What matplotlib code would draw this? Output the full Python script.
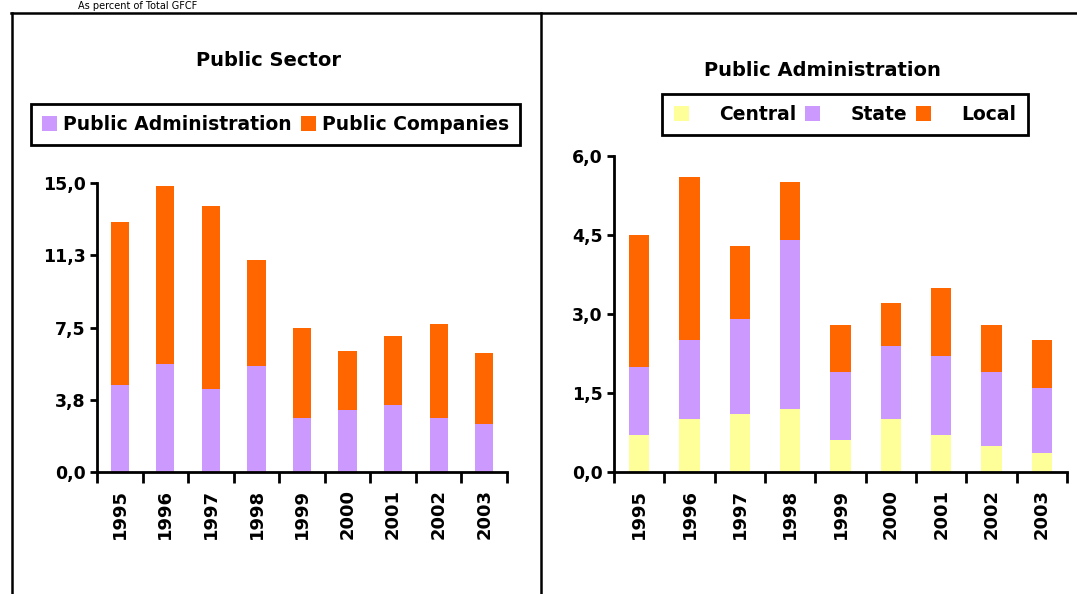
import matplotlib.pyplot as plt
import numpy as np
from matplotlib.lines import Line2D

plt.rcParams['font.family'] = ['DejaVu Sans']

years = ['1995', '1996', '1997', '1998', '1999', '2000', '2001', '2002', '2003']

# Public Administration, split by level (percent of total GFCF)
central = np.array([0.7, 1.0, 1.1, 1.2, 0.6, 1.0, 0.7, 0.5, 0.37])
state = np.array([1.3, 1.5, 1.8, 3.2, 1.3, 1.4, 1.5, 1.4, 1.23])
local = np.array([2.5, 3.1, 1.4, 1.1, 0.9, 0.8, 1.3, 0.9, 0.9])

# Public sector: administration + companies
public_admin = central + state + local
public_companies = np.array([8.5, 9.25, 9.5, 5.5, 4.68, 3.08, 3.56, 4.88, 3.68])

left_ticks = [0, 3.75, 7.5, 11.25, 15]
left_ticklabels = ['0,0', '3,8', '7,5', '11,3', '15,0']
right_ticks = [0, 1.5, 3.0, 4.5, 6.0]
right_ticklabels = ['0,0', '1,5', '3,0', '4,5', '6,0']

c_central = '#FFFF99'
c_state = '#CC99FF'
c_local = '#FF6600'

W, H = 1077, 594
fig = plt.figure(figsize=(W / 100, H / 100), dpi=100)


def px_axes(x0, y_top, x1, y_bot):
    return fig.add_axes([x0 / W, 1 - y_bot / H, (x1 - x0) / W, (y_bot - y_top) / H])


def style_axes(ax, ticks, ticklabels, ymax):
    x = np.arange(len(years))
    ax.set_xlim(-0.5, len(years) - 0.5)
    ax.set_ylim(0, ymax)
    for s in ['top', 'right']:
        ax.spines[s].set_visible(False)
    for s in ['left', 'bottom']:
        ax.spines[s].set_linewidth(2)
    ax.set_yticks(ticks)
    ax.set_yticklabels(ticklabels, fontsize=12.5, fontweight='bold')
    ax.tick_params(axis='y', length=5, width=2, pad=3)
    ax.set_xticks(x)
    ax.set_xticklabels(years, rotation=90, fontsize=13, fontweight='bold')
    ax.tick_params(axis='x', which='major', length=0, pad=12)
    ax.set_xticks(np.arange(-0.5, len(years)), minor=True)
    ax.tick_params(axis='x', which='minor', length=8, width=2)


# left panel: Public Sector
ax1 = px_axes(97, 183, 507, 472)
x = np.arange(len(years))
ax1.bar(x, public_admin, width=0.4, color=c_state, label='Public Administration')
ax1.bar(x, public_companies, width=0.4, bottom=public_admin, color=c_local,
        label='Public Companies')
style_axes(ax1, left_ticks, left_ticklabels, 15)

# right panel: Public Administration
ax2 = px_axes(614, 156, 1067, 472)
ax2.bar(x, central, width=0.41, color=c_central, label='Central')
ax2.bar(x, state, width=0.41, bottom=central, color=c_state, label='State')
ax2.bar(x, local, width=0.41, bottom=central + state, color=c_local, label='Local')
style_axes(ax2, right_ticks, right_ticklabels, 6)

# titles
fig.text(268 / W, 1 - 60 / H, 'Public Sector', ha='center', va='center',
         fontsize=14, fontweight='bold')
fig.text(822 / W, 1 - 70 / H, 'Public Administration', ha='center', va='center',
         fontsize=14, fontweight='bold')

# legends
h1, l1 = ax1.get_legend_handles_labels()
leg1 = fig.legend(h1, l1, loc='center', bbox_to_anchor=(275.5 / W, 1 - 124.5 / H),
                  ncol=2, frameon=True, fancybox=False, edgecolor='black',
                  framealpha=1, handlelength=0.8, handleheight=0.8,
                  handletextpad=0.3, columnspacing=0.5, borderpad=0.6,
                  borderaxespad=0, prop={'weight': 'bold', 'size': 13.5})
leg1.get_frame().set_linewidth(2)

h2, l2 = ax2.get_legend_handles_labels()
leg2 = fig.legend(h2, l2, loc='center', bbox_to_anchor=(845 / W, 1 - 114.5 / H),
                  ncol=3, frameon=True, fancybox=False, edgecolor='black',
                  framealpha=1, handlelength=0.8, handleheight=0.8,
                  handletextpad=1.6, columnspacing=0.5, borderpad=0.6,
                  borderaxespad=0, prop={'weight': 'bold', 'size': 13.5})
leg2.get_frame().set_linewidth(2)

# frame lines around the panels
lw = 1.8
fig.add_artist(Line2D([11 / W, W / W], [1 - 13 / H, 1 - 13 / H], color='black', lw=lw))
fig.add_artist(Line2D([11.5 / W, 11.5 / W], [0, 1 - 13 / H], color='black', lw=lw))
fig.add_artist(Line2D([541 / W, 541 / W], [0, 1 - 13 / H], color='black', lw=lw))

# subtitle at the very top
fig.text(78 / W, 1 - 1 / H, 'As percent of Total GFCF', ha='left', va='top',
         fontsize=7)

fig.savefig('out.png', dpi=100)
